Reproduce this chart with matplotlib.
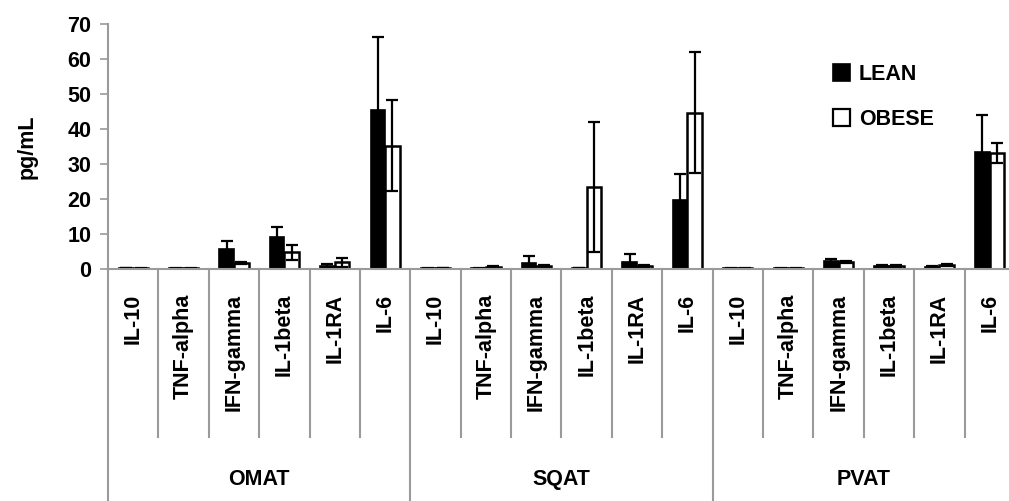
import numpy as np
import matplotlib
matplotlib.use("Agg")
import matplotlib.pyplot as plt
from matplotlib.patches import Patch

plt.rcParams['font.family'] = ['Liberation Sans', 'DejaVu Sans']
plt.rcParams['font.weight'] = 'bold'

# data
tissues = ["OMAT", "SQAT", "PVAT"]
cytokines = ["IL-10", "TNF-alpha", "IFN-gamma", "IL-1beta", "IL-1RA", "IL-6"]

lean = [0.3, 0.2, 5.7, 9.2, 1.0, 45.3,
        0.2, 0.2, 1.8, 0.3, 1.9, 19.6,
        0.2, 0.2, 2.2, 1.0, 0.7, 33.3]
lean_err = [0.1, 0.1, 2.4, 2.9, 0.3, 21.0,
            0.1, 0.1, 1.8, 0.1, 2.4, 7.4,
            0.1, 0.1, 0.8, 0.2, 0.2, 10.8]
obese = [0.2, 0.2, 1.6, 4.8, 1.9, 35.2,
         0.3, 0.6, 0.9, 23.4, 0.8, 44.6,
         0.2, 0.2, 2.0, 0.9, 1.2, 33.2]
obese_err = [0.1, 0.1, 0.3, 2.1, 1.2, 13.0,
             0.1, 0.2, 0.3, 18.6, 0.3, 17.3,
             0.1, 0.1, 0.3, 0.2, 0.3, 2.9]

n = len(lean)
x = np.arange(n)
w = 0.29
gray = "#9a9a9a"
fs = 15.5

fig = plt.figure(figsize=(10.09, 5.01), dpi=100)
ax = fig.add_axes([108/1009, 232/501, 907/1009, 245/501])

ekw = dict(elinewidth=1.6, capthick=1.6, ecolor="black")
ax.bar(x - w/2, lean, w, color="black", edgecolor="black", linewidth=1.2,
       yerr=lean_err, capsize=4.5, error_kw=ekw, label="LEAN", zorder=2)
ax.bar(x + w/2, obese, w, color="white", edgecolor="black", linewidth=1.8,
       yerr=obese_err, capsize=4.5, error_kw=ekw, label="OBESE", zorder=2)

ax.set_xlim(-0.5, n - 0.5)
ax.set_ylim(0, 70)
ax.set_yticks(np.arange(0, 71, 10))
ax.tick_params(axis="y", labelsize=fs, length=6, color=gray, width=1.2, pad=6)
for lbl in ax.get_yticklabels():
    lbl.set_fontweight("bold")
ax.set_xticks([])
for s in ["top", "right"]:
    ax.spines[s].set_visible(False)
for s in ["left", "bottom"]:
    ax.spines[s].set_color(gray)
    ax.spines[s].set_linewidth(1.5)
ax.set_ylabel("pg/mL", fontsize=fs, fontweight="bold")
ax.yaxis.set_label_coords(-0.078, 0.5)

# two-level category axis
tr = ax.get_xaxis_transform()
for i in range(n):
    ax.text(x[i], -0.100, cytokines[i % len(cytokines)], rotation=90,
            ha="center", va="top", fontsize=fs, fontweight="bold", transform=tr)
for i in range(n + 1):
    bottom = -0.947 if i % len(cytokines) == 0 else -0.686
    ax.plot([i - 0.5, i - 0.5], [0, bottom], color=gray, lw=1.5,
            transform=tr, clip_on=False)
for g, name in enumerate(tissues):
    ax.text(g * 6 + 2.5, -0.861, name, ha="center", va="center",
            fontsize=fs, fontweight="bold", transform=tr)

handles = [Patch(facecolor="black", edgecolor="black", lw=1.2, label="LEAN"),
           Patch(facecolor="white", edgecolor="black", lw=1.6, label="OBESE")]
ax.legend(handles=handles, loc="upper left", bbox_to_anchor=(0.778, 0.915),
          frameon=False, handlelength=0.8, handleheight=0.8,
          handletextpad=0.4, labelspacing=1.1, prop={"weight": "bold", "size": fs})

fig.savefig("out.png", dpi=100)
